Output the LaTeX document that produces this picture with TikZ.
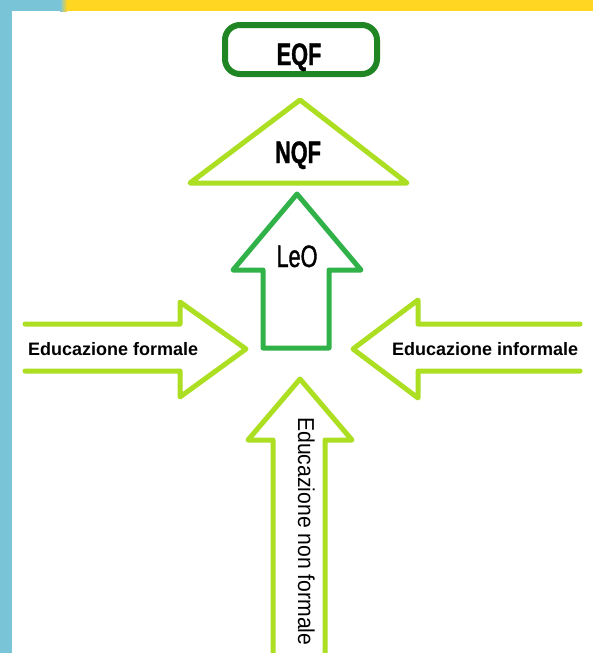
\documentclass[tikz,border=0pt]{standalone}
\usepackage{fontspec}
\setmainfont{Liberation Sans}
\newfontfamily\narrowsans[FakeStretch=0.7,FakeBold=1.2]{Liberation Sans}
\newfontfamily\flowsans[FakeStretch=0.92]{Liberation Sans}

\definecolor{eqfgreen}{RGB}{32,134,36}
\definecolor{leogreen}{RGB}{48,178,72}
\definecolor{limegreen}{RGB}{172,222,34}
\definecolor{barblue}{RGB}{122,196,216}
\definecolor{baryellow}{RGB}{255,214,34}

\begin{document}
\begin{tikzpicture}
  [x=1pt,y=-1pt,
   outline/.style={line width=5pt,line join=round,line cap=round},
   title/.style={font=\narrowsans\bfseries\fontsize{31}{33}\selectfont,inner sep=0pt,anchor=base},
   flow/.style={font=\bfseries\fontsize{18}{20}\selectfont,inner sep=0pt,anchor=base west}]
  \useasboundingbox (0,0) rectangle (593,653);
  \clip (0,0) rectangle (593,653);
  \fill[white] (0,0) rectangle (593,653);

  % page frame
  \fill[barblue] (0,0) rectangle (12,653);
  \fill[barblue] (0,0) rectangle (60,11);
  \shade[left color=barblue,right color=baryellow] (60,0) rectangle (67,11);
  \fill[baryellow] (67,0) rectangle (593,11);

  % EQF box
  \draw[eqfgreen,line width=6pt,rounded corners=15pt] (225,25) rectangle (377,74);
  \node[title] (eqf) at (299,65) {EQF};

  % NQF triangle
  \draw[outline,limegreen] (300,100) -- (407,183) -- (190,183) -- cycle;
  \node[title] (nqf) at (298,163) {NQF};

  % LeO arrow
  \draw[outline,leogreen] (297,194) -- (361,270) -- (329,270) -- (329,348)
    -- (263,348) -- (263,270) -- (233,270) -- cycle;
  \node[title,font=\narrowsans\fontsize{31}{33}\selectfont] (leo) at (297,267) {LeO};

  % incoming arrows
  \draw[outline,limegreen] (25,324) -- (180,324) -- (180,302) -- (246,349)
    -- (180,397) -- (180,371) -- (25,371);
  \node[flow] (formale) at (28,355) {Educazione formale};

  \draw[outline,limegreen] (580,324) -- (418,324) -- (418,300) -- (353,349)
    -- (418,398) -- (418,371) -- (580,371);
  \node[flow] (informale) at (392,355) {Educazione informale};

  \draw[outline,limegreen] (273,665) -- (273,440) -- (248,440) -- (300,379)
    -- (352,440) -- (325,440) -- (325,665);
  \node[flow,font=\flowsans\fontsize{23}{25}\selectfont,rotate=-90] (nonformale)
    at (298,417) {Educazione non formale};
\end{tikzpicture}
\end{document}
